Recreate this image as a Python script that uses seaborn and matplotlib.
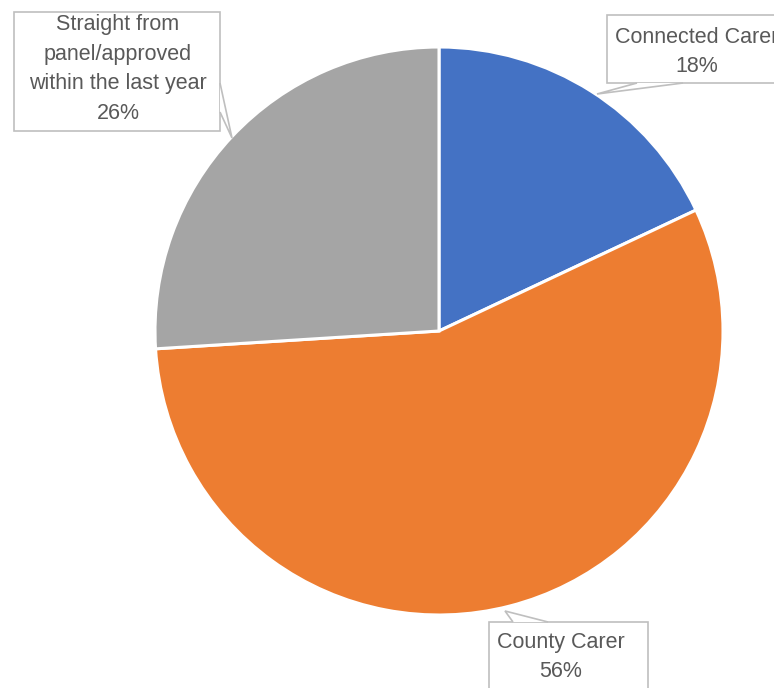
import matplotlib.pyplot as plt
import matplotlib.patches as mpatches
import seaborn as sns

# data
labels = ['Connected Carer', 'County Carer',
          'Straight from\npanel/approved\nwithin the last year']
shares = [18, 56, 26]
colors = ['#4472C4', '#ED7D31', '#A5A5A5']

# callout layout in pixel coords (x0, top, x1, bottom), text centre, tail
boxes = [(607, 15, 800, 83), (489, 622, 648, 720), (14, 12, 220, 131)]
text_pos = [(697, 52), (561, 657), (118, 69)]
tails = [[(637, 83), (597, 94), (683, 83)],
         [(513, 622), (505, 611), (548, 622)],
         [(220, 83), (232, 138), (220, 112)]]

sns.set_theme(style='white')
plt.rcParams['font.family'] = ['Liberation Sans', 'DejaVu Sans']

W, H = 774, 688
fig = plt.figure(figsize=(W / 100, H / 100), dpi=100)
ax = fig.add_axes([0, 0, 1, 1])

ax.pie(shares, colors=colors, startangle=90, counterclock=False,
       center=(439, H - 331), radius=284, frame=True,
       wedgeprops=dict(edgecolor='white', linewidth=2.2))
ax.set_xlim(0, W)
ax.set_ylim(0, H)
ax.set_aspect('equal')
ax.axis('off')

edge = '#BFBFBF'
for lab, share, (x0, t, x1, b), (tx, ty), tail in zip(labels, shares, boxes, text_pos, tails):
    ax.add_patch(mpatches.Rectangle((x0, H - b), x1 - x0, b - t, fc='white',
                                    ec=edge, lw=1.2, zorder=3))
    ax.add_patch(mpatches.Polygon([(px, H - py) for px, py in tail], closed=False,
                                  fc='white', ec=edge, lw=1.2, zorder=4))
    ax.text(tx, H - ty, f'{lab}\n{share}%', ha='center', va='center',
            fontsize=15.5, color='#595959', linespacing=1.55, zorder=5)

fig.savefig('out.png', dpi=100)
